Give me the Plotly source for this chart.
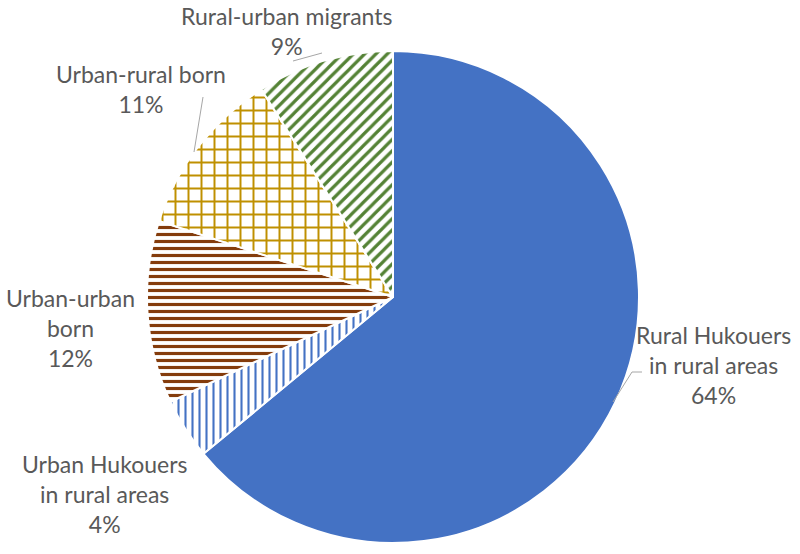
import plotly.graph_objects as go

categories = ["Rural Hukouers in rural areas", "Urban Hukouers in rural areas",
              "Urban-urban born", "Urban-rural born", "Rural-urban migrants"]
values = [64, 4, 12, 11, 9]
label_texts = ["Rural Hukouers<br>in rural areas<br>64%",
               "Urban Hukouers<br>in rural areas<br>4%",
               "Urban-urban<br>born<br>12%",
               "Urban-rural born<br>11%",
               "Rural-urban migrants<br>9%"]

colors = ["#4472C4", "#4472C4", "#843C0C", "#BF9000", "#548235"]
shapes_ = ["", "|", "-", "+", "/"]
W, H = 800, 554
cx, cy, r = 393, 297, 246


def px(x):
    return x / W


def py(y):
    return 1 - y / H


fig = go.Figure(go.Pie(
    labels=categories, values=values, sort=False, direction="clockwise", rotation=0,
    textinfo="none", hoverinfo="label+percent",
    marker=dict(colors=colors, line=dict(color="white", width=2),
                pattern=dict(shape=shapes_, fgcolor=colors, bgcolor="white",
                             size=[8, 7, 7, 13, 8], solidity=[0.3, 0.3, 0.45, 0.28, 0.4],
                             fillmode="replace")),
    domain=dict(x=[(cx - r) / W, (cx + r) / W], y=[(H - cy - r) / H, (H - cy + r) / H]),
    showlegend=False,
))

label_pos = [(713, 365), (104, 494), (70, 328), (141, 89), (287, 31)]
annotations = []
for (lx, ly), t in zip(label_pos, label_texts):
    annotations.append(dict(x=px(lx), y=py(ly), xref="paper", yref="paper",
                            text=t, showarrow=False, xanchor="center", yanchor="middle",
                            font=dict(family="Lato", size=23, color="#595959")))

leaders = [[(613, 402), (632, 372), (642, 372)],
           [(293, 61), (322, 53)],
           [(203, 97), (194, 152)]]
shapes = []
for pts in leaders:
    for (x0, y0), (x1, y1) in zip(pts[:-1], pts[1:]):
        shapes.append(dict(type="line", xref="paper", yref="paper",
                           x0=px(x0), y0=py(y0), x1=px(x1), y1=py(y1),
                           line=dict(color="#A6A6A6", width=1)))

fig.update_layout(width=W, height=H, margin=dict(l=0, r=0, t=0, b=0),
                  paper_bgcolor="white", plot_bgcolor="white",
                  annotations=annotations, shapes=shapes)
fig.write_html("out.html", config={"displayModeBar": False},
               post_script="document.body.style.margin='0';document.body.style.overflow='hidden';")
